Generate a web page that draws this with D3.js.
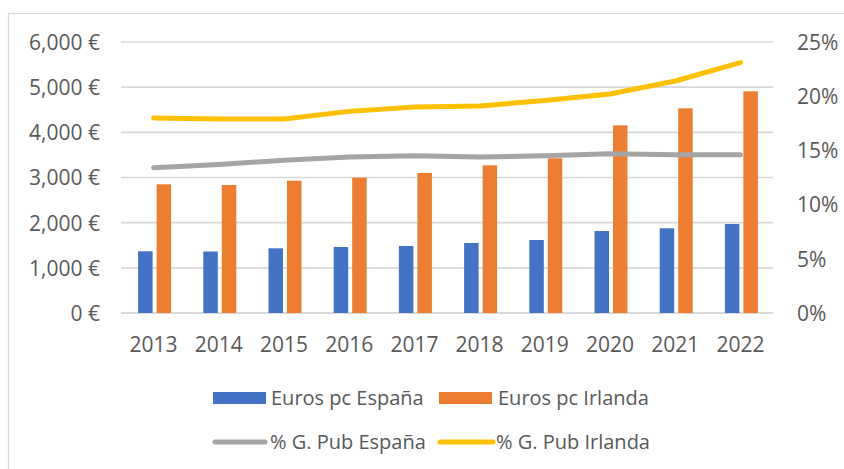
<!DOCTYPE html>
<html>
<head>
<meta charset="utf-8">
<script src="https://cdn.jsdelivr.net/npm/d3@7"></script>
<style>
  html, body { margin: 0; padding: 0; background: #fff; }
  svg { display: block; }
  text { font-family: "Open Sans", sans-serif; fill: #595959; }
</style>
</head>
<body>
<svg id="chart" width="844" height="469"></svg>
<script>
const years = ["2013","2014","2015","2016","2017","2018","2019","2020","2021","2022"];
const eurosEspana  = [1366, 1362, 1432, 1461, 1483, 1550, 1616, 1815, 1875, 1970];
const eurosIrlanda = [2849, 2834, 2929, 2996, 3100, 3270, 3425, 4155, 4532, 4908];
const pctEspana  = [13.4, 13.7, 14.1, 14.4, 14.5, 14.4, 14.5, 14.7, 14.6, 14.6];
const pctIrlanda = [18.0, 17.9, 17.9, 18.6, 19.0, 19.1, 19.6, 20.2, 21.4, 23.1];
const leftTicks  = [0, 1000, 2000, 3000, 4000, 5000, 6000];
const rightTicks = [0, 5, 10, 15, 20, 25];
const seriesNames = ["Euros pc España", "Euros pc Irlanda", "% G. Pub España", "% G. Pub Irlanda"];

const colors = { blue: "#4472C4", orange: "#ED7D31", gray: "#A5A5A5", yellow: "#FFC000" };

const svg = d3.select("#chart");

// chart border
svg.append("rect")
  .attr("x", 8.5).attr("y", 13.5)
  .attr("width", 900).attr("height", 500)
  .attr("fill", "none").attr("stroke", "#D9D9D9").attr("stroke-width", 1.2);

const plot = { left: 121, right: 773, top: 42, bottom: 313 };

const x = d3.scaleBand().domain(years).range([plot.left, plot.right]);
const yL = d3.scaleLinear().domain([0, 6000]).range([plot.bottom, plot.top]);
const yR = d3.scaleLinear().domain([0, 25]).range([plot.bottom, plot.top]);

// gridlines
svg.append("g").selectAll("line").data(leftTicks).join("line")
  .attr("x1", plot.left).attr("x2", plot.right)
  .attr("y1", d => yL(d)).attr("y2", d => yL(d))
  .attr("stroke", "#D9D9D9").attr("stroke-width", d => d === 0 ? 2 : 1.6);

// left axis
const leftAxis = d3.axisLeft(yL).tickValues(leftTicks)
  .tickFormat(d => d3.format(",")(d) + " €").tickSize(0).tickPadding(21);
const gL = svg.append("g").attr("transform", `translate(${plot.left},0)`).call(leftAxis);
gL.select(".domain").remove();
gL.selectAll("text").style("font-size", "21px").attr("fill", "#595959").attr("dy", "0.35em");

// right axis
const rightAxis = d3.axisRight(yR).tickValues(rightTicks)
  .tickFormat(d => d + "%").tickSize(0).tickPadding(24);
const gR = svg.append("g").attr("transform", `translate(${plot.right},0)`).call(rightAxis);
gR.select(".domain").remove();
gR.selectAll("text").style("font-size", "21px").attr("fill", "#595959").attr("dy", "0.35em");

// bottom axis
const bottomAxis = d3.axisBottom(x).tickSize(0).tickPadding(24);
const gB = svg.append("g").attr("transform", `translate(0,${plot.bottom})`).call(bottomAxis);
gB.select(".domain").remove();
gB.selectAll("text").style("font-size", "21px").attr("fill", "#595959");

// bars
const barW = 14.5, gap = 4;
const cx = d => x(d) + x.bandwidth() / 2 + 1;
svg.append("g").selectAll("rect").data(years).join("rect")
  .attr("x", d => cx(d) - gap / 2 - barW)
  .attr("y", (d, i) => yL(eurosEspana[i]))
  .attr("width", barW)
  .attr("height", (d, i) => yL(0) - yL(eurosEspana[i]))
  .attr("fill", colors.blue);
svg.append("g").selectAll("rect").data(years).join("rect")
  .attr("x", d => cx(d) + gap / 2)
  .attr("y", (d, i) => yL(eurosIrlanda[i]))
  .attr("width", barW)
  .attr("height", (d, i) => yL(0) - yL(eurosIrlanda[i]))
  .attr("fill", colors.orange);

// lines
const line = d3.line().x((d, i) => x(years[i]) + x.bandwidth() / 2).y(d => yR(d));
svg.append("path").datum(pctEspana).attr("d", line)
  .attr("fill", "none").attr("stroke", colors.gray).attr("stroke-width", 5)
  .attr("stroke-linecap", "round").attr("stroke-linejoin", "round");
svg.append("path").datum(pctIrlanda).attr("d", line)
  .attr("fill", "none").attr("stroke", colors.yellow).attr("stroke-width", 5)
  .attr("stroke-linecap", "round").attr("stroke-linejoin", "round");

// legend
const leg = svg.append("g");
const row1 = 398, row2 = 442;
leg.append("rect").attr("x", 213).attr("y", row1 - 6).attr("width", 53).attr("height", 12).attr("fill", colors.blue);
leg.append("text").attr("x", 271).attr("y", row1).attr("dy", "0.35em").style("font-size", "20px").text(seriesNames[0]);
leg.append("rect").attr("x", 439).attr("y", row1 - 6).attr("width", 53).attr("height", 12).attr("fill", colors.orange);
leg.append("text").attr("x", 498).attr("y", row1).attr("dy", "0.35em").style("font-size", "20px").text(seriesNames[1]);

leg.append("line").attr("x1", 215).attr("x2", 265).attr("y1", row2).attr("y2", row2)
  .attr("stroke", colors.gray).attr("stroke-width", 5).attr("stroke-linecap", "round");
leg.append("text").attr("x", 270).attr("y", row2).attr("dy", "0.35em").style("font-size", "20px").text(seriesNames[2]);
leg.append("line").attr("x1", 440).attr("x2", 493).attr("y1", row2).attr("y2", row2)
  .attr("stroke", colors.yellow).attr("stroke-width", 5).attr("stroke-linecap", "round");
leg.append("text").attr("x", 496).attr("y", row2).attr("dy", "0.35em").style("font-size", "20px").text(seriesNames[3]);
</script>
</body>
</html>
